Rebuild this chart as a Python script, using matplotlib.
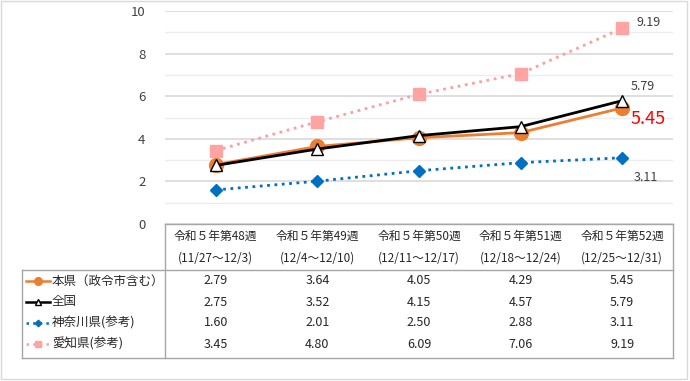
import matplotlib
matplotlib.use("Agg")
import matplotlib.pyplot as plt
from matplotlib.lines import Line2D
from matplotlib.patches import Rectangle

plt.rcParams["font.family"] = ["Noto Sans CJK JP", "DejaVu Sans"]

weeks = ["令和５年第48週", "令和５年第49週", "令和５年第50週", "令和５年第51週", "令和５年第52週"]
periods = ["(11/27～12/3)", "(12/4～12/10)", "(12/11～12/17)", "(12/18～12/24)", "(12/25～12/31)"]
series_names = ["本県（政令市含む）", "全国", "神奈川県(参考)", "愛知県(参考)"]
honken = [2.79, 3.64, 4.05, 4.29, 5.45]
zenkoku = [2.75, 3.52, 4.15, 4.57, 5.79]
kanagawa = [1.60, 2.01, 2.50, 2.88, 3.11]
aichi = [3.45, 4.80, 6.09, 7.06, 9.19]

W, H = 690, 381
fig = plt.figure(figsize=(W / 100, H / 100), dpi=100)


def fx(px):
    return px / W


def fy(py):
    return 1 - py / H


# plot area
x0, x1, ytop, ybot = 165, 673, 11, 224
ax = fig.add_axes([fx(x0), fy(ybot), fx(x1 - x0), fy(ytop) - fy(ybot)])
xs = list(range(len(weeks)))

styles = [
    dict(data=honken, color="#ED7D31", ls="-", lw=2.0, marker="o", ms=10, mfc="#ED7D31", mec="#ED7D31", z=3),
    dict(data=zenkoku, color="black", ls="-", lw=2.0, marker="^", ms=8, mfc="white", mec="black", z=4),
    dict(data=kanagawa, color="#0070C0", ls=":", lw=2.0, marker="D", ms=6, mfc="#0070C0", mec="#0070C0", z=2),
    dict(data=aichi, color="#FF9F9F", ls=":", lw=2.0, marker="s", ms=8, mfc="#FFA3A3", mec="#FFA3A3", z=2),
]
for s in styles:
    ax.plot(xs, s["data"], color=s["color"], linestyle=s["ls"], linewidth=s["lw"],
            marker=s["marker"], markersize=s["ms"], markerfacecolor=s["mfc"],
            markeredgecolor=s["mec"], markeredgewidth=1.0, zorder=s["z"])

ax.set_xlim(-0.5, 4.5)
ax.set_ylim(0, 10)
ax.set_yticks([0, 2, 4, 6, 8, 10])
ax.set_yticks([1, 3, 5, 7, 9], minor=True)
ax.grid(axis="y", which="major", color="#D9D9D9", linewidth=1.2)
ax.grid(axis="y", which="minor", color="#EDEDED", linewidth=1.0)
ax.set_axisbelow(True)
ax.set_xticks([])
for sp in ax.spines.values():
    sp.set_visible(False)
ax.tick_params(axis="y", which="both", length=0, labelsize=9.5, colors="#404040", pad=14)

last = len(xs) - 1
ax.annotate(f"{aichi[last]:.2f}", (xs[last], aichi[last]), xytext=(10, 4), textcoords="offset points",
            fontsize=9, color="#404040", va="center")
ax.annotate(f"{zenkoku[last]:.2f}", (xs[last], zenkoku[last]), xytext=(6, 10), textcoords="offset points",
            fontsize=9, color="#404040", va="center")
ax.annotate(f"{honken[last]:.2f}", (xs[last], honken[last]), xytext=(6, -8), textcoords="offset points",
            fontsize=13, color="#FF0000", va="center")
ax.annotate(f"{kanagawa[last]:.2f}", (xs[last], kanagawa[last]), xytext=(8, -14), textcoords="offset points",
            fontsize=9, color="#404040", va="center")

# data table
border = "#A6A6A6"
tl, hdr_top, hdr_bot, tbot = 22, 224, 270, 358
lines = [
    ((x0, x1), (hdr_top, hdr_top)),
    ((x0, x0), (hdr_top, tbot)),
    ((x1, x1), (hdr_top, tbot)),
    ((tl, x1), (hdr_bot, hdr_bot)),
    ((tl, tl), (hdr_bot, tbot)),
    ((tl, x1), (tbot, tbot)),
]
for (xa, xb), (ya, yb) in lines:
    fig.add_artist(Line2D([fx(xa), fx(xb)], [fy(ya), fy(yb)], color=border, linewidth=1.0))

colw = (x1 - x0) / len(weeks)
for i, (wk, pr) in enumerate(zip(weeks, periods)):
    cx = x0 + colw * (i + 0.5)
    fig.text(fx(cx), fy(236), wk, ha="center", va="center", fontsize=8.5, color="#262626")
    fig.text(fx(cx), fy(258), pr, ha="center", va="center", fontsize=8.5, color="#262626")

row_y = [281, 302, 323, 344]
for r, (name, s) in enumerate(zip(series_names, styles)):
    y = row_y[r]
    fig.add_artist(Line2D([fx(26), fx(50)], [fy(y), fy(y)], color=s["color"], linestyle=s["ls"],
                          linewidth=s["lw"] * 0.9))
    fig.add_artist(Line2D([fx(38)], [fy(y)], marker=s["marker"], markersize=s["ms"] * 0.55,
                          markerfacecolor=s["mfc"], markeredgecolor=s["mec"], linestyle="none"))
    fig.text(fx(52), fy(y), name, ha="left", va="center", fontsize=9, color="#262626")
    for i, v in enumerate(s["data"]):
        cx = x0 + colw * (i + 0.5)
        fig.text(fx(cx), fy(y), f"{v:.2f}", ha="center", va="center", fontsize=9, color="#262626")

# outer frame
fig.add_artist(Rectangle((fx(1), fy(379)), fx(687) - fx(1), fy(1) - fy(379), fill=False,
                         edgecolor="#D9D9D9", linewidth=1.0))

fig.savefig("out.png", dpi=100)
